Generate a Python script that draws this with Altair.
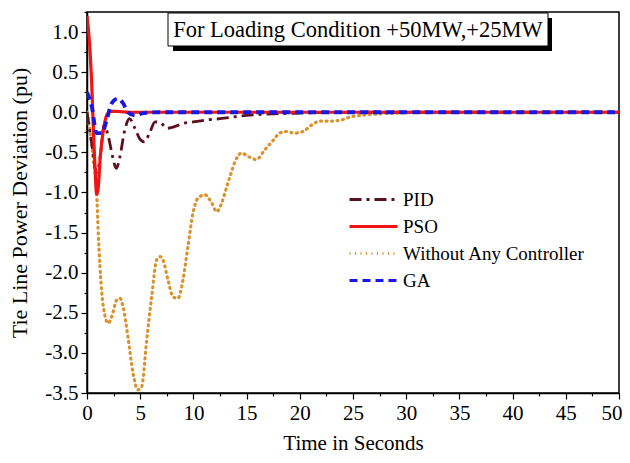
import altair as alt
import pandas as pd

series_names = ["PID", "PSO", "Without Any Controller", "GA"]

t_pid = [0, 0.4, 0.9, 1.3, 1.6, 2.0, 2.4, 2.75, 3.1, 3.5, 4.0, 4.5, 5.0, 5.4, 5.9, 6.4, 6.9, 7.5, 8.2, 9, 10, 11, 12.5, 15, 17.5, 20, 25, 50]
v_pid = [0, -0.35, -0.75, -0.5, -0.15, -0.3, -0.55, -0.7, -0.55, -0.25, -0.08, -0.2, -0.34, -0.37, -0.25, -0.12, -0.13, -0.2, -0.18, -0.14, -0.12, -0.1, -0.08, -0.04, -0.02, -0.01, 0, 0]

t_pso = [0, 0.28, 0.44, 0.59, 0.75, 0.91, 1.06, 1.22, 1.5, 1.85, 2.2, 2.8, 4, 50]
v_pso = [1.2, 0.77, 0.36, -0.18, -0.68, -1.02, -0.93, -0.6, -0.26, -0.04, 0.01, 0.01, 0, 0]

t_none = [0, 0.3, 0.6, 0.91, 1.05, 1.22, 1.53, 2.0, 2.32, 2.79, 3.1, 3.38, 3.85, 4.32, 4.79, 5.14, 5.61, 6.08, 6.55, 6.86, 7.14, 7.61, 8.08, 8.55, 9.02, 9.49, 9.96, 10.43, 11.09, 11.72, 12.19, 12.66, 13.13, 13.44, 13.9, 14.5, 15.3, 15.9, 16.7, 17.5, 18.1, 18.8, 19.5, 20.3, 21.1, 21.9, 22.8, 23.8, 24.7, 25.7, 27.5, 29.1, 32, 50]
v_none = [0, -0.25, -0.6, -1.0, -1.47, -1.92, -2.42, -2.63, -2.55, -2.34, -2.32, -2.42, -2.8, -3.25, -3.46, -3.42, -2.84, -2.3, -1.84, -1.8, -1.84, -2.09, -2.3, -2.32, -2.09, -1.67, -1.26, -1.07, -1.03, -1.13, -1.24, -1.13, -0.93, -0.8, -0.62, -0.51, -0.56, -0.59, -0.47, -0.35, -0.26, -0.24, -0.26, -0.24, -0.16, -0.11, -0.11, -0.1, -0.06, -0.04, -0.02, -0.01, 0, 0]

t_ga = [0, 0.15, 0.45, 0.9, 1.4, 1.85, 2.3, 2.9, 3.4, 3.85, 4.5, 5.3, 7, 50]
v_ga = [0.25, 0.2, 0.07, -0.26, -0.26, -0.1, 0.11, 0.17, 0.11, 0.0, -0.04, -0.01, 0, 0]

title_text = "For Loading Condition +50MW,+25MW"

x_ticks = [i * 2.5 for i in range(21)]
y_ticks = [-3.5 + i * 0.25 for i in range(20)]

colors = ["#5c0f1c", "#f01414", "#d8922e", "#1818e0"]
dashes = [[12, 5, 3, 5], [1, 0], [1, 4.5], [8, 5]]

rows = []
for name, ts, vs in zip(series_names, [t_pid, t_pso, t_none, t_ga], [v_pid, v_pso, v_none, v_ga]):
    for t, v in zip(ts, vs):
        rows.append({"series": name, "t": t, "v": v})
df = pd.DataFrame(rows)

FONT = "Liberation Serif"

x_enc = alt.X(
    "t:Q",
    scale=alt.Scale(domain=[0, 50], nice=False, zero=False),
    axis=alt.Axis(
        values=x_ticks,
        labelExpr="datum.value % 5 === 0 ? format(datum.value, 'd') : ''",
        tickSize={"condition": {"test": "datum.value % 5 === 0", "value": 6}, "value": 3},
        labelAlign={"condition": {"test": "datum.value >= 50", "value": "right"}, "value": "center"},
        labelOffset={"condition": {"test": "datum.value >= 50", "value": 3}, "value": 0},
        title="Time in Seconds",
        labelOverlap=False,
        labelFlush=False,
        grid=False,
        labelFont=FONT,
        labelFontSize=21,
        labelPadding=3,
        titleFont=FONT,
        titleFontSize=21,
        titlePadding=9,
    ),
)
y_enc = alt.Y(
    "v:Q",
    scale=alt.Scale(domain=[-3.5, 1.25], nice=False, zero=False),
    axis=alt.Axis(
        values=y_ticks,
        labelExpr="abs(datum.value*2 - round(datum.value*2)) < 0.001 ? (datum.value < -0.001 ? '-' : '') + format(abs(datum.value), '.1f') : ''",
        tickSize={"condition": {"test": "abs(datum.value*2 - round(datum.value*2)) < 0.001", "value": 6}, "value": 3},
        title="Tie Line Power Deviation (pu)",
        labelOverlap=False,
        grid=False,
        labelFont=FONT,
        labelFontSize=21,
        labelPadding=3,
        titleFont=FONT,
        titleFontSize=22,
        titlePadding=13,
    ),
)
legend_cfg = dict(
    title=None,
    orient="none",
    legendX=270,
    legendY=171,
    symbolType="M-1.6,0H1.6",
    symbolSize=900,
    symbolStrokeWidth=3,
    symbolFillColor="transparent",
    labelFont=FONT,
    labelFontSize=19,
    labelColor="black",
    labelOffset=13,
    labelLimit=400,
    rowPadding=-1,
)
color_enc = alt.Color(
    "series:N",
    scale=alt.Scale(domain=series_names, range=colors),
    legend=alt.Legend(**legend_cfg),
)
dash_enc = alt.StrokeDash(
    "series:N",
    scale=alt.Scale(domain=series_names, range=dashes),
    legend=alt.Legend(**legend_cfg),
)

layers = []
for name, w in zip(["Without Any Controller", "PID", "PSO", "GA"], [3.2, 2.8, 3.2, 3.8]):
    cap = "round" if name == "Without Any Controller" else "butt"
    layers.append(
        alt.Chart(df)
        .transform_filter(alt.datum.series == name)
        .mark_line(strokeWidth=w, interpolate="monotone", clip=True, strokeCap=cap)
        .encode(x=x_enc, y=y_enc, color=color_enc, strokeDash=dash_enc, order="t:Q")
    )

box_df = pd.DataFrame({"label": [title_text]})
shadow = alt.Chart(box_df).mark_rect(color="black").encode(
    x=alt.value(86), x2=alt.value(465), y=alt.value(6), y2=alt.value(39)
)
box = alt.Chart(box_df).mark_rect(fill="white", stroke="black", strokeWidth=1).encode(
    x=alt.value(81), x2=alt.value(461), y=alt.value(1), y2=alt.value(34)
)
box_text = alt.Chart(box_df).mark_text(font=FONT, fontSize=22.5, color="black", baseline="middle", align="center").encode(
    x=alt.value(271), y=alt.value(18), text="label:N"
)

chart = (
    alt.layer(*layers, shadow, box, box_text)
    .properties(
        width=532,
        height=381,
        autosize=alt.AutoSizeParams(type="none"),
        padding={"left": 79, "top": 4, "right": 3, "bottom": 62},
        background="white",
    )
    .configure_view(stroke="black", strokeWidth=1.5)
    .configure_axis(
        labelFont=FONT,
        labelColor="black",
        titleFont=FONT,
        titleFontWeight="normal",
        titleColor="black",
        domainColor="black",
        domainWidth=1.5,
        tickColor="black",
        tickWidth=1.2,
    )
)

chart.save("out.html", embed_options={"renderer": "svg", "actions": False})
